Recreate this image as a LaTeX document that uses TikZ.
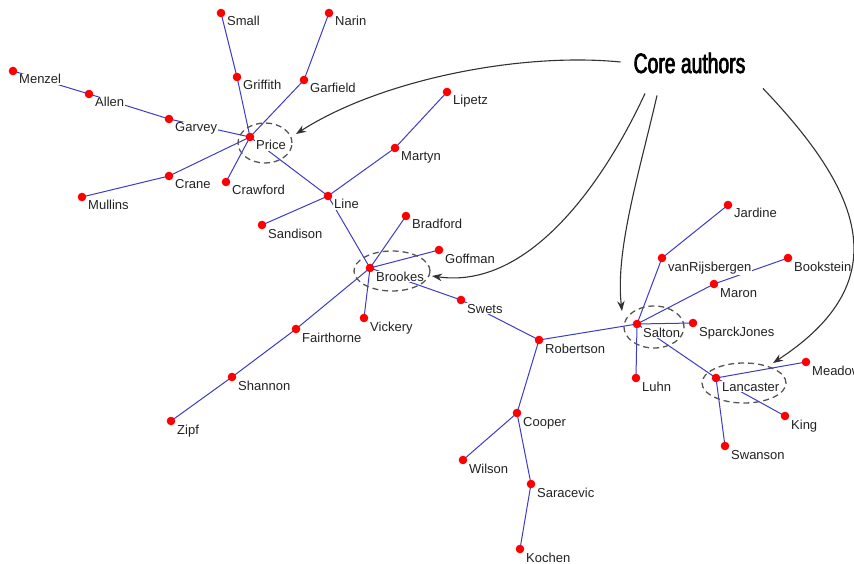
\documentclass[tikz,border=0pt]{standalone}
\usepackage{fontspec}
\setmainfont{Liberation Sans}
\newfontfamily\corefont[FakeStretch=0.69,FakeBold=2.5]{Liberation Sans}
\usetikzlibrary{arrows.meta,backgrounds,shapes.geometric}

\definecolor{linkblue}{RGB}{60,60,200}
\definecolor{labcol}{RGB}{34,34,34}
\definecolor{loopgray}{RGB}{85,85,85}
\definecolor{arrowgray}{RGB}{50,50,50}

\tikzset{
  authdot/.style={circle,fill=red,inner sep=0pt,minimum size=8.6pt},
  lab/.style={fill=white,inner sep=1pt,anchor=base west,text=labcol,
    font=\fontsize{13}{15}\selectfont},
  link/.style={draw=linkblue,line width=1pt},
  coreloop/.style={ellipse,draw=loopgray,line width=1.3pt,
    dash pattern=on 6pt off 4pt,inner sep=0pt},
  pointer/.style={draw=arrowgray,line width=1.1pt,
    -{Stealth[length=10pt,width=7.5pt]}},
}

% author: red dot plus its label below right
\newcommand\placeauthor[4]{%
  \node[authdot] (#1) at (#2,#3) {};
  \node[lab] (#1-l) at ({#2+5},{#3+13}) {#4};}

\begin{document}
\begin{tikzpicture}[x=1pt,y=-1pt]
\useasboundingbox (0,0) rectangle (854,564);
\clip (0,0) rectangle (854,564);

% authors
\placeauthor{small}{221}{13}{Small}
\placeauthor{narin}{329}{13}{Narin}
\placeauthor{menzel}{13}{71}{Menzel}
\placeauthor{griffith}{237}{77}{Griffith}
\placeauthor{garfield}{304}{80}{Garfield}
\placeauthor{allen}{89}{94}{Allen}
\placeauthor{garvey}{169}{119}{Garvey}
\placeauthor{price}{250}{137}{Price}
\placeauthor{crane}{169}{176}{Crane}
\placeauthor{crawford}{226}{182}{Crawford}
\placeauthor{mullins}{82}{197}{Mullins}
\placeauthor{line}{328}{196}{Line}
\placeauthor{martyn}{395}{148}{Martyn}
\placeauthor{lipetz}{447}{92}{Lipetz}
\placeauthor{sandison}{262}{225}{Sandison}
\placeauthor{bradford}{406}{216}{Bradford}
\placeauthor{goffman}{439}{250}{Goffman}
\placeauthor{brookes}{370}{268}{Brookes}
\placeauthor{swets}{461}{300}{Swets}
\placeauthor{vickery}{364}{318}{Vickery}
\placeauthor{fairthorne}{296}{329}{Fairthorne}
\placeauthor{robertson}{539}{340}{Robertson}
\placeauthor{shannon}{232}{377}{Shannon}
\placeauthor{zipf}{171}{421}{Zipf}
\placeauthor{cooper}{517}{413}{Cooper}
\placeauthor{wilson}{463}{460}{Wilson}
\placeauthor{saracevic}{531}{484}{Saracevic}
\placeauthor{kochen}{520}{549}{Kochen}
\placeauthor{jardine}{728}{205}{Jardine}
\placeauthor{vanrijsbergen}{662}{258}{vanRijsbergen}
\placeauthor{bookstein}{788}{258}{Bookstein}
\placeauthor{maron}{714}{284}{Maron}
\placeauthor{salton}{637}{324}{Salton}
\placeauthor{sparckjones}{693}{323}{SparckJones}
\placeauthor{meadow}{806}{362}{Meadow}
\placeauthor{lancaster}{716}{378}{Lancaster}
\placeauthor{luhn}{636}{378}{Luhn}
\placeauthor{king}{785}{416}{King}
\placeauthor{swanson}{725}{446}{Swanson}

% co-citation links, kept underneath dots and labels
\begin{scope}[on background layer]
  \draw[link] (small.center) -- (griffith.center) -- (price.center);
  \draw[link] (narin.center) -- (garfield.center) -- (price.center);
  \draw[link] (menzel.center) -- (allen.center) -- (garvey.center) -- (price.center);
  \draw[link] (mullins.center) -- (crane.center) -- (price.center);
  \draw[link] (crawford.center) -- (price.center);
  \draw[link] (price.center) -- (line.center);
  \draw[link] (line.center) -- (martyn.center) -- (lipetz.center);
  \draw[link] (line.center) -- (sandison.center);
  \draw[link] (line.center) -- (brookes.center);
  \draw[link] (brookes.center) -- (bradford.center);
  \draw[link] (brookes.center) -- (goffman.center);
  \draw[link] (brookes.center) -- (vickery.center);
  \draw[link] (brookes.center) -- (fairthorne.center) -- (shannon.center) -- (zipf.center);
  \draw[link] (brookes.center) -- (swets.center) -- (robertson.center);
  \draw[link] (robertson.center) -- (salton.center);
  \draw[link] (robertson.center) -- (cooper.center);
  \draw[link] (cooper.center) -- (wilson.center);
  \draw[link] (cooper.center) -- (saracevic.center) -- (kochen.center);
  \draw[link] (salton.center) -- (vanrijsbergen.center) -- (jardine.center);
  \draw[link] (salton.center) -- (maron.center) -- (bookstein.center);
  \draw[link] (salton.center) -- (sparckjones.center);
  \draw[link] (salton.center) -- (luhn.center);
  \draw[link] (salton.center) -- (lancaster.center);
  \draw[link] (lancaster.center) -- (meadow.center);
  \draw[link] (lancaster.center) -- (king.center);
  \draw[link] (lancaster.center) -- (swanson.center);
\end{scope}

% core author rings
\node[coreloop,minimum width=54pt,minimum height=40pt] (priceloop) at (265,143) {};
\node[coreloop,minimum width=76pt,minimum height=40pt] (brookesloop) at (392,271) {};
\node[coreloop,minimum width=60pt,minimum height=42pt] (saltonloop) at (654,327) {};
\node[coreloop,minimum width=84pt,minimum height=40pt] (lancasterloop) at (744,383) {};

% caption and its pointers
\node[anchor=base,inner sep=3pt,font=\corefont\fontsize{28}{31}\selectfont] (core) at (689.5,73) {Core authors};

\draw[pointer,shorten <=10pt] (core.west)
  .. controls (520,52) and (380,80) .. ([xshift=31pt,yshift=9pt]priceloop.center);
\draw[pointer] ([xshift=-44.5pt,yshift=-17pt]core.south)
  .. controls (605,180) and (530,290) .. ([xshift=40pt,yshift=-5pt]brookesloop.center);
\draw[pointer] ([xshift=-32.5pt,yshift=-19pt]core.south)
  .. controls (640,170) and (615,250) .. ([xshift=-32pt,yshift=16pt]saltonloop.center);
\draw[pointer] ([xshift=73.5pt,yshift=-12pt]core.south)
  .. controls (860,190) and (900,280) .. ([xshift=29pt,yshift=20pt]lancasterloop.center);
\end{tikzpicture}
\end{document}
